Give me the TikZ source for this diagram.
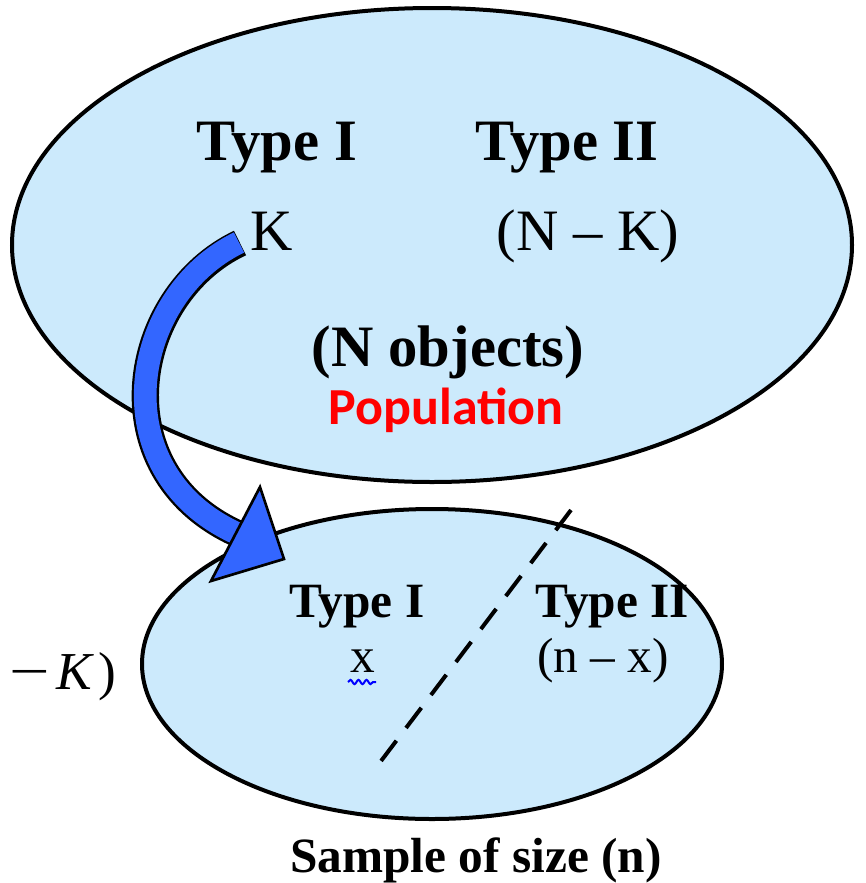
\documentclass[tikz,border=0pt]{standalone}
\usepackage{fontspec}
\setmainfont{Liberation Serif}
\newfontfamily\calibri{Carlito}
\usetikzlibrary{decorations.pathmorphing,shapes.geometric}
\definecolor{ellfill}{RGB}{204,234,252}
\definecolor{arrblue}{RGB}{51,102,255}
\definecolor{popred}{RGB}{255,0,0}
\tikzset{
  ell/.style={draw=black,line width=3pt,fill=ellfill},
  bigtxt/.style={anchor=base,font=\fontsize{44}{50}\selectfont\bfseries},
  bigreg/.style={anchor=base,font=\fontsize{44}{50}\selectfont},
  smtxt/.style={anchor=base,font=\fontsize{37}{42}\selectfont\bfseries},
  smreg/.style={anchor=base,font=\fontsize{37}{42}\selectfont},
  divider/.style={draw=black,line width=3pt,dash pattern=on 19pt off 12pt},
}
\begin{document}
\begin{tikzpicture}[x=0.75pt,y=-0.75pt]
\useasboundingbox (0,0) rectangle (866,883);
% ellipses
\node[ell,ellipse,minimum width=630pt,minimum height=355.5pt,inner sep=0pt] (pop) at (432,245) {};
\node[ell,ellipse,minimum width=435pt,minimum height=232.5pt,inner sep=0pt] (samp) at (432,664) {};
% top texts
\node[bigtxt] (t1) at (277,160) {Type I};
\node[bigtxt] (t2) at (567,160) {Type II};
\node[bigreg] (k) at (272,250) {K};
\node[bigreg] (nk) at (588,250) {(N – K)};
\node[bigtxt] (nobj) at (448,366) {(N objects)};
\node[anchor=base,font=\fontsize{39}{44}\selectfont\calibri\bfseries,text=popred] (popl) at (446,424) {Population};
% dashed divider
\coordinate (d1) at (571,510);
\coordinate (d2) at (378,765);
\draw[divider] (d1) -- (d2);
% sample texts
\node[smtxt] (s1) at (357,617) {Type I};
\node[smtxt] (s2) at (612,617) {Type II};
\node[smreg] (sx) at (363,672) {x};
\node[smreg] (snx) at (603,672) {(n – x)};
\coordinate (w1) at (348,682);
\coordinate (w2) at (376,682);
\draw[blue,line width=1.5pt,decorate,decoration={snake,amplitude=1.6pt,segment length=6pt}] (w1) -- (w2);
\node[anchor=base west,inner sep=0pt,font=\fontsize{40}{44}\selectfont] (mk) at (9,689) {\scalebox{1.35}[1]{−}\hspace{5pt}\textit{K}\hspace{3pt})};
\node[smtxt] (sample) at (476,872) {Sample of size (n)};
% blue curved arrow
\coordinate (a0) at (240,243);
\coordinate (a1) at (236,533);
\draw[black,line width=20.5pt] (a0) .. controls (130,295) and (100,470) .. (a1);
\draw[arrblue,line width=17pt] ([shift={(-1,-0.5)}]a0) .. controls (130,295) and (100,470) .. (a1);
\coordinate (h1) at (260,487);
\coordinate (h2) at (284,559);
\coordinate (h3) at (211,581);
\draw[black,line width=2pt,fill=arrblue,line join=miter] (h1) -- (h2) -- (h3) -- cycle;
\end{tikzpicture}
\end{document}
